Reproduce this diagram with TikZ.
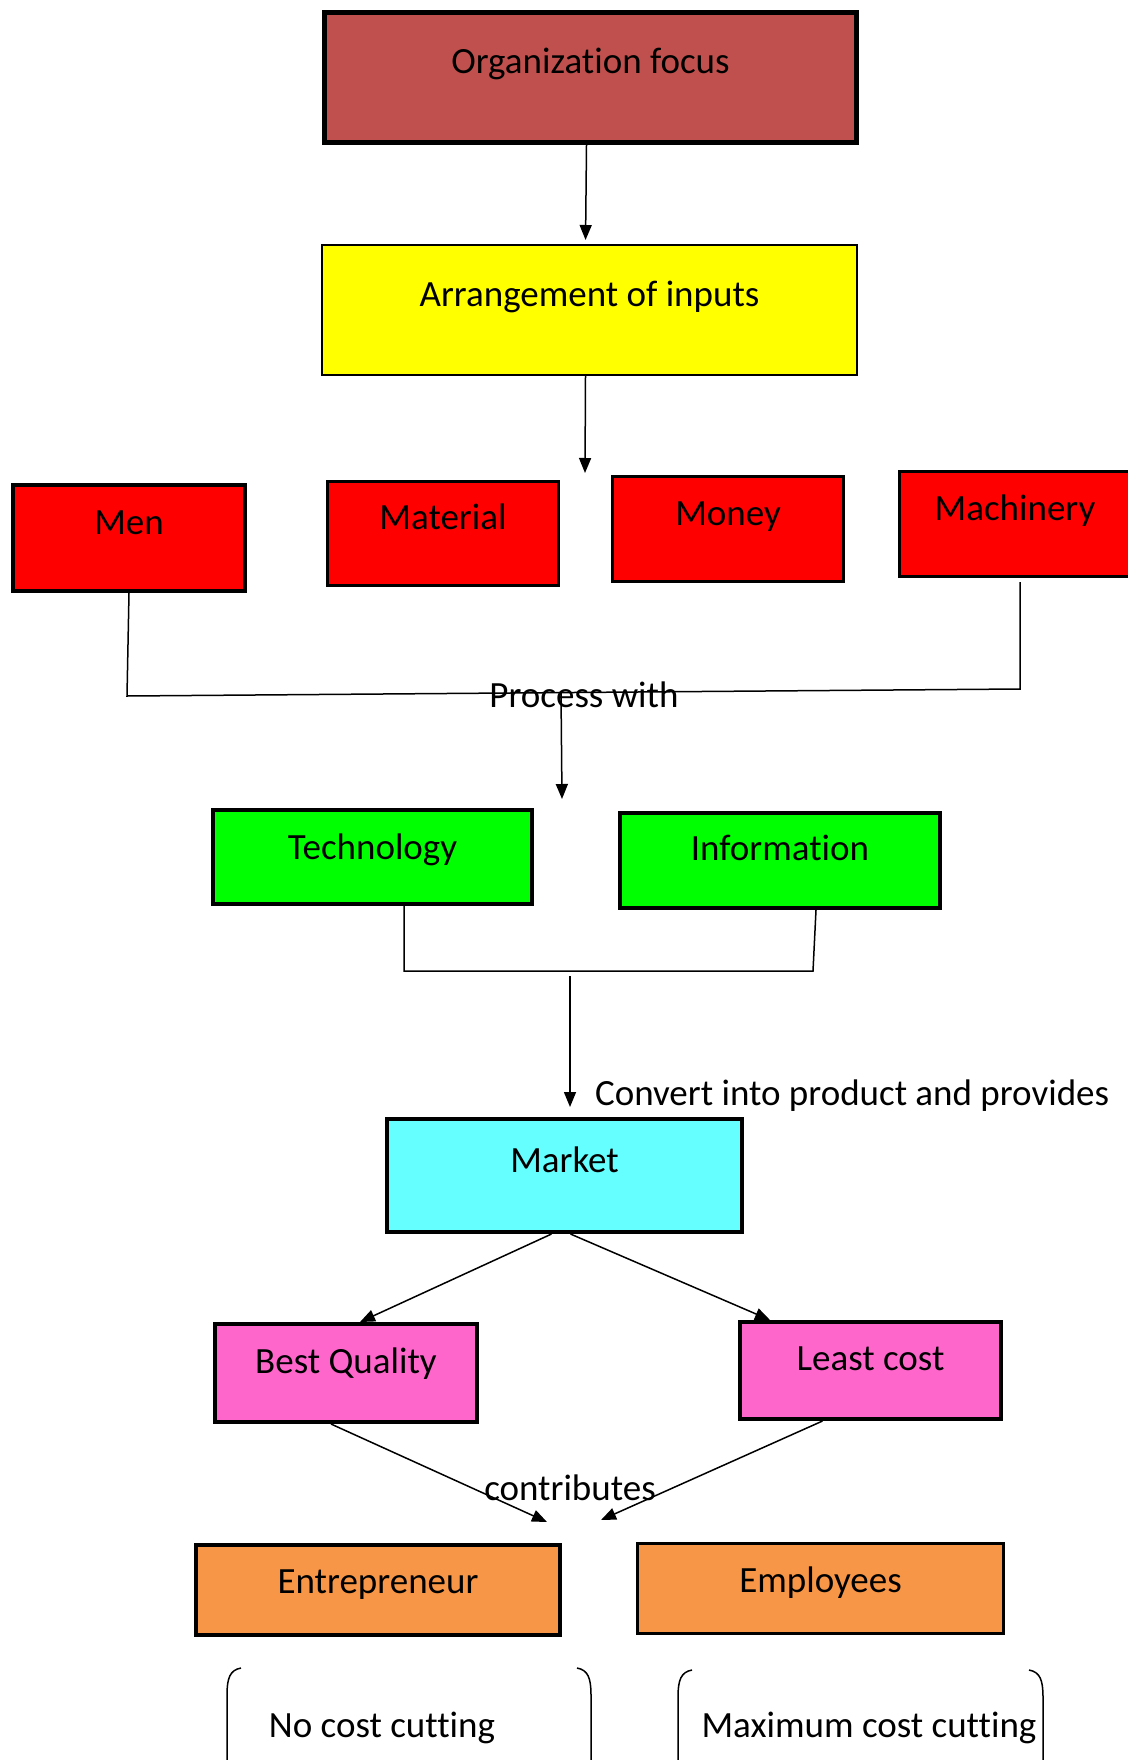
\documentclass[tikz,border=0pt]{standalone}
\usepackage{fontspec}
\setmainfont{Carlito}[Ligatures=NoCommon]
\usetikzlibrary{arrows.meta}

\definecolor{focusred}{HTML}{C0504D}
\definecolor{inputyellow}{HTML}{FFFF00}
\definecolor{inputred}{HTML}{FF0000}
\definecolor{toolgreen}{HTML}{00FF00}
\definecolor{marketcyan}{HTML}{66FFFF}
\definecolor{goalpink}{HTML}{FF66CC}
\definecolor{peopleorange}{HTML}{F79646}

\begin{document}
\begin{tikzpicture}[x=0.5pt, y=-0.5pt,
  every node/.style={font=\fontsize{18.5}{22}\selectfont},
  box/.style n args={3}{draw, anchor=north west, inner sep=0pt, align=flush center,
    text width=#1, text height=#2, text depth=#3},
  link/.style={line width=0.75pt},
  arrow/.style={link, -{Triangle[length=7.5pt,width=6pt]}},
  bracket/.style={line width=0.75pt}]

  \useasboundingbox (0,0) rectangle (1128,1760);
  \clip (0,0) rectangle (1128,1760);

  % Focus and arrangement
  \node[box={266pt}{30.75pt}{34.25pt}, fill=focusred, line width=2.5pt] (org) at (322,10) {Organization focus};
  \node[box={267.5pt}{30.5pt}{34.5pt}, fill=inputyellow, line width=1pt] (arr) at (321,244) {Arrangement of inputs};

  % Inputs
  \node[box={116pt}{24.5pt}{28.5pt}, fill=inputred, line width=2pt] (men) at (11,483) {Men};
  \node[box={115.5pt}{23.75pt}{28.25pt}, fill=inputred, line width=1.5pt] (mat) at (326,480) {Material};
  \node[box={115.5pt}{24.25pt}{28.25pt}, fill=inputred, line width=1.5pt] (mon) at (611,475) {Money};
  \node[box={115.5pt}{24.25pt}{28.25pt}, fill=inputred, line width=1.5pt] (mach) at (898,470) {Machinery};

  % Technology and information
  \node[box={159.5pt}{24.5pt}{22.5pt}, fill=toolgreen, line width=2pt] (tech) at (211,808) {Technology};
  \node[box={160pt}{23.5pt}{24pt}, fill=toolgreen, line width=2pt] (info) at (618,811) {Information};

  % Market
  \node[box={177.5pt}{26.5pt}{30pt}, fill=marketcyan, line width=2pt] (market) at (385,1117) {Market};

  % Quality and cost
  \node[box={131pt}{24.5pt}{24.5pt}, fill=goalpink, line width=2pt] (bq) at (213,1322) {Best Quality};
  \node[box={130.5pt}{24pt}{24.5pt}, fill=goalpink, line width=2pt] (lc) at (738,1320) {Least cost};

  % People
  \node[box={182pt}{24pt}{21pt}, fill=peopleorange, line width=2pt] (ent) at (194,1543) {Entrepreneur};
  \node[box={183pt}{24.25pt}{20.75pt}, fill=peopleorange, line width=1.5pt] (emp) at (636,1542) {Employees};

  % Labels on the connectors
  \node[anchor=base] (proc) at (584,707) {Process with};
  \node[anchor=base west] (conv) at (588,1105) {Convert into product and provides};
  \node[anchor=base] (contrib) at (570,1500) {contributes};
  \node[anchor=base] (nocut) at (382,1737) {No cost cutting};
  \node[anchor=base] (maxcut) at (869,1737) {Maximum cost cutting};

  % Free ends and joints
  \coordinate (inputs) at (585,473);
  \coordinate (jl) at (127,696);
  \coordinate (jr) at (1020,689);
  \coordinate (mj) at (1020,582);
  \coordinate (pw) at (561,693);
  \coordinate (tools) at (562,799);
  \coordinate (tj) at (404,971);
  \coordinate (ij) at (813,971);
  \coordinate (cj) at (570,976);
  \coordinate (cl) at (547,1522);
  \coordinate (cr) at (601,1520);

  % Connectors
  \draw[arrow, shorten >=2pt] ([xshift=-2pt]org.south) -- ([xshift=-2pt]arr.north);
  \draw[arrow] ([xshift=-2pt]arr.south) -- (inputs);
  \draw[link] (men.south) -- (jl) -- (jr) -- (mj);
  \draw[arrow] (pw) -- (tools);
  \draw[link] (tech.south -| tj) -- (tj) -- (ij) -- ([xshift=1.5pt]info.south -| ij);
  \draw[arrow, shorten >=5pt] (cj) -- (cj |- market.north);
  \draw[arrow] ([xshift=-6.5pt]market.south) -- ([xshift=7pt]bq.north);
  \draw[arrow] ([xshift=3pt]market.south) -- ([xshift=16pt]lc.north west);
  \draw[arrow] ([xshift=-7.5pt]bq.south) -- (cl);
  \draw[arrow] ([xshift=-24pt]lc.south) -- (cr);

  % Bracket pairs round the last texts
  \foreach \l/\r/\t in {227/591/1668, 678/1043/1670} {
    \draw[bracket] (\l+14,\t) .. controls (\l+3,\t+2) and (\l,\t+10) .. (\l,\t+27) -- (\l,1790);
    \draw[bracket] (\r-14,\t) .. controls (\r-3,\t+2) and (\r,\t+10) .. (\r,\t+27) -- (\r,1790);
  }

\end{tikzpicture}
\end{document}
